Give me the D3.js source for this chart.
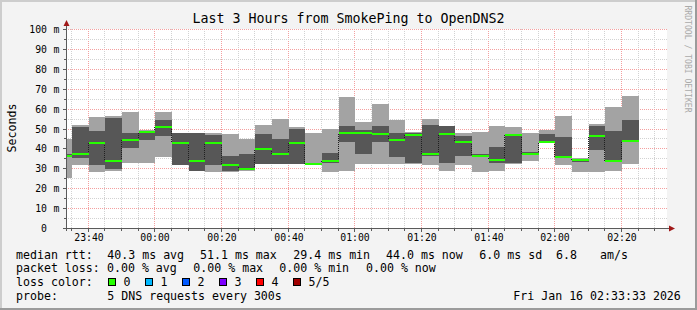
<!DOCTYPE html>
<html lang="en">
<head>
<meta charset="UTF-8">
<title>Last 3 Hours from SmokePing to OpenDNS2</title>
<script src="https://d3js.org/d3.v7.min.js"></script>
<style>
  html, body { margin: 0; padding: 0; background: #f3f3f3; }
  svg { display: block; font-family: "DejaVu Sans Mono", monospace; }
</style>
</head>
<body>
<svg id="chart" width="697" height="310"></svg>
<script>
// 5 minute bins (the first one is cut by the graph start)
const binStarts = ["23:30", "23:35", "23:40", "23:45", "23:50", "23:55",
    "00:00", "00:05", "00:10", "00:15", "00:20", "00:25", "00:30", "00:35", "00:40", "00:45", "00:50", "00:55",
    "01:00", "01:05", "01:10", "01:15", "01:20", "01:25", "01:30", "01:35", "01:40", "01:45", "01:50", "01:55",
    "02:00", "02:05", "02:10", "02:15", "02:20"];

// the 5 sorted pings of each bin, in ms
const pingMax = [44.8, 52, 55.7, 56.2, 58.2, 49.2, 58.2, 47.5, 47.5, 47.5, 47, 44.5, 52, 55, 50.8, 47.5, 50, 65.7,
    53.2, 62.5, 54.5, 48.3, 55, 51.5, 47.5, 48, 51.5, 51, 47.5, 49, 56.5, 35, 52.5, 60.7, 66.5];
const pingHi = [37, 50.8, 48.7, 55.3, 47.5, 48.7, 54.5, 47.5, 47.5, 46.5, 36.2, 37, 47, 44.5, 49.5, 32.7, 37.5, 51.2,
    49, 51.2, 47.5, 47.5, 51.7, 51.2, 46.2, 37, 40.7, 46.5, 38, 47.3, 45.8, 34.8, 51.2, 48.7, 54.5];
const median = [36.3, 37, 42.5, 33.5, 44.2, 48.2, 50.7, 42.5, 33.5, 42.5, 31.7, 29.5, 39.5, 37, 42.5, 32, 33.5, 47.5,
    47.5, 47, 44.2, 46.7, 37, 47, 43.2, 36, 34, 46.5, 37, 43, 35.8, 34.2, 46.2, 33.7, 43.7];
const pingLo = [35.5, 35.3, 31.7, 29.8, 40, 44.2, 46.2, 31.7, 28.7, 31.7, 28.5, 29, 32, 32, 32, 31.8, 32.5, 43.2,
    37, 43.2, 35.7, 32.5, 36.2, 32.5, 36.2, 35.5, 32.5, 32.5, 36.5, 42.8, 35.5, 33, 39.2, 33.3, 43.5];
const pingMin = [25, 31.7, 28.2, 28.7, 32.5, 32.5, 35.7, 31.7, 28.7, 28.2, 28.3, 28.8, 32, 32, 32, 31.7, 28.2, 28.7,
    32, 32, 32, 32.3, 31.5, 28.7, 31.5, 28.2, 28.7, 32, 33.5, 42.8, 31.7, 28.2, 28.2, 28.7, 32];

const yTicks = [0, 10, 20, 30, 40, 50, 60, 70, 80, 90, 100];
const timeTicks = ["23:40", "00:00", "00:20", "00:40", "01:00", "01:20", "01:40", "02:00", "02:20"];

const lossLabels = ["0", "1", "2", "3", "4", "5/5"];
const lossColors = ["#26ff00", "#00b8ff", "#0059ff", "#7e00ff", "#ff0000", "#a00000"];

const W = 697, H = 310;
const plotLeft = 66, plotRight = 666, plotTop = 29, plotBottom = 228;

function toTime(s) {
    const [h, m] = s.split(':').map(Number);
    return new Date(Date.UTC(2026, 0, h >= 12 ? 15 : 16, h, m));
}
const start = new Date(Date.UTC(2026, 0, 15, 23, 33, 33));
const end = new Date(Date.UTC(2026, 0, 16, 2, 33, 33));

const x = d3.scaleUtc().domain([start, end]).range([plotLeft, plotRight]);
const y = d3.scaleLinear().domain([0, 100]).range([plotBottom, plotTop]);
const px = v => Math.round(x(v));
const py = v => Math.round(y(v));

const svg = d3.select('#chart');

// background + shaded frame
svg.append('rect').attr('width', W).attr('height', H).attr('fill', '#f3f3f3');
svg.append('path').attr('d', `M0,0H${W}V2H2V${H}H0Z`).attr('fill', '#cdcdcd');
svg.append('path').attr('d', `M${W},${H}H0V${H - 2}H${W - 2}V0H${W}Z`).attr('fill', '#9b9b9b');

// plot canvas
svg.append('rect')
    .attr('x', plotLeft).attr('y', plotTop)
    .attr('width', plotRight - plotLeft + 1).attr('height', plotBottom - plotTop)
    .attr('fill', '#ffffff');

// grid
const grid = svg.append('g').attr('stroke-width', 1).attr('stroke-dasharray', '1,1').attr('fill', 'none');
const minorMinutes = d3.utcMinute.every(5).range(start, end);
grid.selectAll('.vgrid')
    .data(minorMinutes)
    .enter()
    .append('line')
    .attr('x1', d => px(d) + 0.5).attr('x2', d => px(d) + 0.5)
    .attr('y1', plotTop).attr('y2', plotBottom)
    .attr('stroke', d => d.getUTCMinutes() % 20 === 0 ? '#f4a0a0' : '#d2d2d2');

const hLines = d3.range(5, 101, 5);
grid.selectAll('.hgrid')
    .data(hLines)
    .enter()
    .append('line')
    .attr('x1', plotLeft).attr('x2', plotRight + 2)
    .attr('y1', d => py(d) + 0.5).attr('y2', d => py(d) + 0.5)
    .attr('stroke', d => d % 10 === 0 ? '#f4a0a0' : '#d2d2d2');

// smoke
svg.append('clipPath').attr('id', 'plotClip')
    .append('rect').attr('x', plotLeft + 1).attr('y', plotTop)
    .attr('width', plotRight - plotLeft).attr('height', plotBottom - plotTop);

const bins = binStarts.map((s, i) => ({
    t0: toTime(s),
    t1: new Date(toTime(s).getTime() + 5 * 60000),
    max: pingMax[i], hi: pingHi[i], med: median[i], lo: pingLo[i], min: pingMin[i]
}));

const plot = svg.append('g').attr('clip-path', 'url(#plotClip)');

plot.selectAll('.smoke-outer')
    .data(bins)
    .enter()
    .append('rect')
    .attr('x', d => px(d.t0) + 1)
    .attr('width', d => px(d.t1) - px(d.t0))
    .attr('y', d => py(d.max))
    .attr('height', d => py(d.min) - py(d.max))
    .attr('fill', '#a3a3a3');

plot.selectAll('.smoke-inner')
    .data(bins)
    .enter()
    .append('rect')
    .attr('x', d => px(d.t0) + 1)
    .attr('width', d => px(d.t1) - px(d.t0))
    .attr('y', d => py(d.hi))
    .attr('height', d => Math.max(1, py(d.lo) - py(d.hi)))
    .attr('fill', '#575757');

// median steps
plot.selectAll('.step')
    .data(bins.slice(1))
    .enter()
    .append('line')
    .attr('x1', d => px(d.t0) + 0.5).attr('x2', d => px(d.t0) + 0.5)
    .attr('y1', (d, i) => py(bins[i].med))
    .attr('y2', d => py(d.med))
    .attr('stroke', '#202020')
    .attr('stroke-dasharray', '1,1');

plot.selectAll('.median')
    .data(bins)
    .enter()
    .append('rect')
    .attr('x', d => px(d.t0) + 1)
    .attr('width', d => px(d.t1) - px(d.t0))
    .attr('y', d => py(d.med) - 1)
    .attr('height', 2)
    .attr('fill', lossColors[0]);

// axes
const axis = svg.append('g').attr('stroke', '#5a5a5a').attr('stroke-width', 1);
axis.append('line').attr('x1', plotLeft + 0.5).attr('x2', plotLeft + 0.5)
    .attr('y1', plotBottom + 3).attr('y2', plotTop - 4);
axis.append('line').attr('x1', plotLeft - 3).attr('x2', plotRight + 4)
    .attr('y1', plotBottom + 0.5).attr('y2', plotBottom + 0.5);
axis.selectAll('.ytick')
    .data(hLines)
    .enter()
    .append('line')
    .attr('x1', d => d % 10 === 0 ? plotLeft - 3 : plotLeft - 2).attr('x2', plotLeft)
    .attr('y1', d => py(d) + 0.5).attr('y2', d => py(d) + 0.5);
axis.selectAll('.xtick')
    .data(minorMinutes)
    .enter()
    .append('line')
    .attr('x1', d => px(d) + 0.5).attr('x2', d => px(d) + 0.5)
    .attr('y1', plotBottom + 1)
    .attr('y2', d => d.getUTCMinutes() % 20 === 0 ? plotBottom + 4 : plotBottom + 3);

svg.append('path')
    .attr('d', `M${plotLeft - 2.5},${plotTop - 3}L${plotLeft + 0.5},${plotTop - 9}L${plotLeft + 3.5},${plotTop - 3}Z`)
    .attr('fill', '#a01818');
svg.append('path')
    .attr('d', `M${plotRight + 3},${plotBottom - 2.5}L${plotRight + 9},${plotBottom + 0.5}L${plotRight + 3},${plotBottom + 3.5}Z`)
    .attr('fill', '#a01818');

// axis labels
const yLab = svg.append('g').attr('font-size', '9.8px').attr('fill', '#000');
yLab.selectAll('.ynum')
    .data(yTicks)
    .enter()
    .append('text')
    .attr('x', 47)
    .attr('y', d => py(d) + 3.5)
    .attr('text-anchor', 'end')
    .text(d => d);
yLab.selectAll('.yunit')
    .data(yTicks.filter(d => d > 0))
    .enter()
    .append('text')
    .attr('x', 53.5)
    .attr('y', d => py(d) + 3.5)
    .text('m');

svg.append('g').attr('font-size', '9.8px').attr('fill', '#000')
    .selectAll('text')
    .data(timeTicks)
    .enter()
    .append('text')
    .attr('x', d => px(toTime(d)) + 1)
    .attr('y', 240.5)
    .attr('text-anchor', 'middle')
    .text(d => d);

svg.append('text')
    .attr('x', 348.5).attr('y', 23)
    .attr('text-anchor', 'middle')
    .attr('font-size', '13.3px')
    .attr('fill', '#000')
    .text('Last 3 Hours from SmokePing to OpenDNS2');

svg.append('text')
    .attr('transform', 'translate(15.5,128) rotate(-90)')
    .attr('text-anchor', 'middle')
    .attr('font-size', '11.6px')
    .attr('fill', '#000')
    .text('Seconds');

svg.append('text')
    .attr('transform', 'translate(684.5,59) rotate(90)')
    .attr('text-anchor', 'middle')
    .attr('font-size', '8.1px')
    .attr('fill', '#aaaaaa')
    .text('RRDTOOL / TOBI OETIKER');

// legend
const legendRows = [
    [[16, 'median rtt:'], [107.3, '40.3 ms avg'], [200, '51.1 ms max'], [293.3, '29.4 ms min'],
     [386, '44.0 ms now'], [479.3, '6.0 ms sd'], [556, '6.8'], [600, 'am/s']],
    [[16, 'packet loss:'], [107, '0.00 % avg'], [193.3, '0.00 % max'], [279.3, '0.00 % min'], [366, '0.00 % now']],
    [[16, 'loss color:']],
    [[16, 'probe:'], [107.3, '5 DNS requests every 300s'], [513.3, 'Fri Jan 16 02:33:33 2026']]
];
const rowY = [258.5, 272, 286, 299.5];
const legend = svg.append('g').attr('font-size', '11.6px').attr('fill', '#000');
legendRows.forEach((row, r) => {
    legend.selectAll(null)
        .data(row)
        .enter()
        .append('text')
        .attr('x', d => d[0])
        .attr('y', rowY[r])
        .text(d => d[1]);
});

const swatch = legend.selectAll('.swatch')
    .data(lossLabels)
    .enter()
    .append('g')
    .attr('transform', (d, i) => `translate(${108.5 + i * 37},278.5)`);
swatch.append('rect')
    .attr('width', 7).attr('height', 7)
    .attr('fill', (d, i) => lossColors[i])
    .attr('stroke', '#000').attr('stroke-width', 1);
swatch.append('text')
    .attr('x', 15).attr('y', 7.5)
    .text(d => d);
</script>
</body>
</html>
